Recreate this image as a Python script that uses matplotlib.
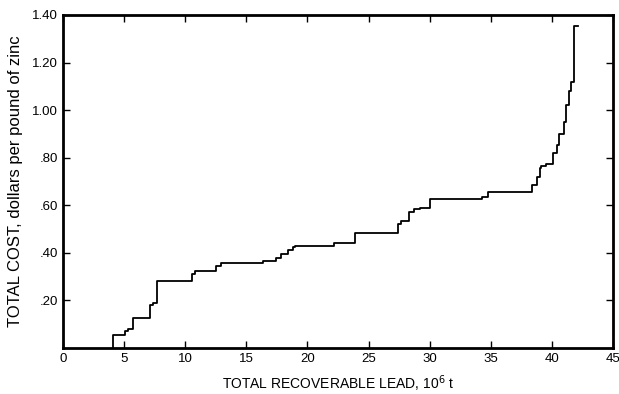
import matplotlib
matplotlib.use("Agg")
import matplotlib.pyplot as plt

plt.rcParams['font.family'] = ['Liberation Sans', 'DejaVu Sans']

# cumulative recoverable lead (10^6 t) where cost steps up, and the new cost level
lead = [4.1, 4.1, 5.05, 5.3, 5.75, 7.1, 7.35, 7.67, 10.55, 10.8, 12.5, 12.9,
        16.4, 17.4, 17.8, 18.4, 18.8, 19.0, 22.2, 22.8, 23.9, 27.4, 27.7,
        28.3, 28.75, 29.2, 30.0, 34.3, 34.8, 38.4, 38.8, 39.0, 39.1, 39.5,
        40.1, 40.4, 40.6, 41.0, 41.2, 41.4, 41.6, 41.8, 42.15]
cost = [0.0, 0.055, 0.07, 0.078, 0.127, 0.18, 0.19, 0.28, 0.31, 0.325, 0.345,
        0.356, 0.367, 0.38, 0.395, 0.41, 0.425, 0.43, 0.44, 0.443, 0.485,
        0.52, 0.535, 0.57, 0.584, 0.59, 0.627, 0.636, 0.657, 0.685, 0.72,
        0.755, 0.766, 0.775, 0.818, 0.853, 0.90, 0.95, 1.02, 1.08, 1.12,
        1.353, 1.353]

xticks = [0, 5, 10, 15, 20, 25, 30, 35, 40, 45]
yticks = [0.2, 0.4, 0.6, 0.8, 1.0, 1.2, 1.4]
ylabels = ['.20', '.40', '.60', '.80', '1.00', '1.20', '1.40']

fig = plt.figure(figsize=(6.19, 3.94), dpi=100)
ax = fig.add_axes([0.102, 0.117, 0.888, 0.845])

ax.step(lead, cost, where='post', color='black', linewidth=1.3)

ax.set_xlim(0, 45)
ax.set_ylim(0, 1.4)
ax.set_xticks(xticks)
ax.set_yticks(yticks)
ax.set_yticklabels(ylabels)
ax.tick_params(direction='in', length=5, width=1, labelsize=9.5,
               top=True, right=True, labeltop=False, labelright=False)
for s in ax.spines.values():
    s.set_linewidth(2)

ax.set_xlabel('TOTAL RECOVERABLE LEAD, 10$^6$ t', fontsize=10, labelpad=6)
ax.set_ylabel('TOTAL COST, dollars per pound of zinc', fontsize=12, labelpad=7)

fig.savefig('out.png', dpi=100)
